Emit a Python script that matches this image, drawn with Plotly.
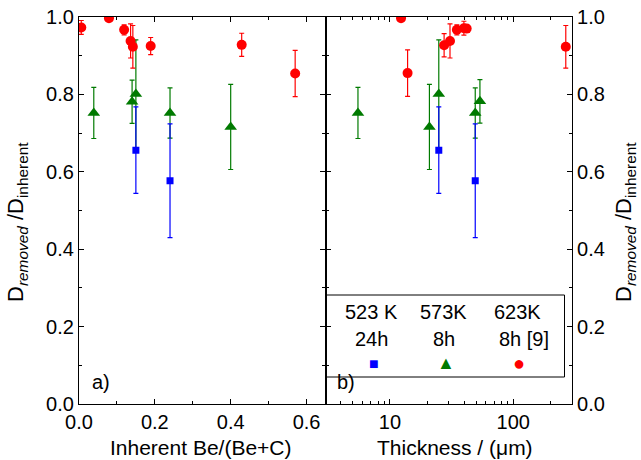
import plotly.graph_objects as go

# Panel a): inherent Be fraction
be_red = [0.006, 0.079, 0.119, 0.136, 0.142, 0.189, 0.429, 0.570]
d_red_a = [0.973, 0.997, 0.967, 0.938, 0.923, 0.925, 0.928, 0.854]
e_red_a = [0.018, 0.0, 0.013, 0.044, 0.055, 0.022, 0.030, 0.060]

be_green = [0.039, 0.140, 0.150, 0.240, 0.400]
d_green_a = [0.752, 0.781, 0.801, 0.752, 0.716]
e_green_a = [0.066, 0.056, 0.140, 0.065, 0.110]

be_blue = [0.150, 0.240]
d_blue_a = [0.656, 0.577]
e_blue_a = [0.112, 0.147]

# Panel b): layer thickness in micrometres
th_red = [12.3, 13.9, 27.5, 30.7, 34.9, 39.8, 41.9, 267.0]
d_red_b = [0.997, 0.855, 0.927, 0.938, 0.967, 0.971, 0.970, 0.923]
e_red_b = [0.0, 0.060, 0.030, 0.044, 0.013, 0.018, 0.010, 0.055]

th_green = [5.5, 20.9, 24.9, 49.2, 53.7]
d_green_b = [0.752, 0.716, 0.801, 0.752, 0.782]
e_green_b = [0.066, 0.110, 0.140, 0.065, 0.056]

th_blue = [24.9, 49.2]
d_blue_b = [0.656, 0.577]
e_blue_b = [0.112, 0.147]

legend_temps = ["523 K", "573K", "623K"]
legend_times = ["24h", "8h", "8h [9]"]

RED, GREEN, BLUE = "#ff0000", "#007a00", "#0000ff"
FONT = "Liberation Sans, Arial, Helvetica, sans-serif"
FS = 20

W, H = 641, 460
ML, MR, MT, MB = 79, 69, 17, 56
PW, PH = W - ML - MR, H - MT - MB


def px(x):
    return (x - ML) / PW


def py(y):
    return (H - MB - y) / PH


def series(x, y, err, color, symbol, size, xa, ya):
    return go.Scatter(
        x=x, y=y, mode="markers", xaxis=xa, yaxis=ya, showlegend=False,
        marker=dict(color=color, symbol=symbol, size=size, line=dict(width=0)),
        error_y=dict(type="data", array=err, visible=True, color=color,
                     thickness=1.2, width=2.5),
    )


fig = go.Figure()
fig.add_trace(series(be_green, d_green_a, e_green_a, GREEN, "triangle-up", 11, "x", "y"))
fig.add_trace(series(be_blue, d_blue_a, e_blue_a, BLUE, "square", 7, "x", "y"))
fig.add_trace(series(be_red, d_red_a, e_red_a, RED, "circle", 10, "x", "y"))
fig.add_trace(series(th_green, d_green_b, e_green_b, GREEN, "triangle-up", 11, "x2", "y2"))
fig.add_trace(series(th_blue, d_blue_b, e_blue_b, BLUE, "square", 7, "x2", "y2"))
fig.add_trace(series(th_red, d_red_b, e_red_b, RED, "circle", 10, "x2", "y2"))

tick_font = dict(family=FONT, size=FS, color="black")
common = dict(showline=True, linecolor="black", linewidth=1.2, mirror="ticks",
              ticks="inside", ticklen=5, tickwidth=1, tickcolor="black",
              showgrid=False, zeroline=False, tickfont=tick_font, automargin=False)
minor = dict(ticks="inside", ticklen=3, tickwidth=1, tickcolor="black", showgrid=False)

fig.update_layout(
    width=W, height=H, margin=dict(l=ML, r=MR, t=MT, b=MB, autoexpand=False),
    paper_bgcolor="white", plot_bgcolor="white",
    font=dict(family=FONT, size=FS, color="black"),
    xaxis=dict(domain=[0, 0.5], range=[0, 0.65], tickvals=[0, 0.2, 0.4, 0.6],
               tickformat=".1f", minor=dict(dtick=0.1, **minor), anchor="y",
               **common),
    yaxis=dict(domain=[0, 1], range=[0, 1.0], dtick=0.2, tickformat=".1f",
               minor=dict(dtick=0.1, **minor), anchor="x", **common),
    xaxis2=dict(domain=[0.5, 1], type="log", range=[0.477, 2.477],
                tickvals=[10, 100], ticktext=["10", "100"],
                minor=dict(dtick="D1", **minor), anchor="y2",
                **common),
    yaxis2=dict(domain=[0, 1], range=[0, 1.0], dtick=0.2, tickformat=".1f",
                minor=dict(dtick=0.1, **minor), anchor="x2", side="right", **common),
)

ytitle = "D<sub><i>removed</i></sub> /D<sub>inherent</sub>"
ytitle_font = dict(size=22, color="black")
anns = [
    dict(x=px(17), y=py(222), text=ytitle, textangle=-90, font=ytitle_font),
    dict(x=px(625), y=py(222), text=ytitle, textangle=-90, font=ytitle_font),
    dict(x=px(101), y=py(382), text="a)"),
    dict(x=px(346), y=py(382), text="b)"),
    dict(x=px(201), y=py(447), text="Inherent Be/(Be+C)", font=dict(size=21, color="black")),
    dict(x=px(455), y=py(447), text="Thickness / (\u03bcm)", font=dict(size=21, color="black")),
]
legend_x = [371.7, 443.5, 517.0]
marker_sym = ["\u25a0", "\u25b2", "\u25cf"]
marker_col = [BLUE, GREEN, RED]
marker_size = [16, 18, 20]
for i in range(3):
    anns.append(dict(x=px(legend_x[i]), y=py(312), text=legend_temps[i]))
    anns.append(dict(x=px(legend_x[i] + (7 if i == 2 else 0)), y=py(339), text=legend_times[i]))
    anns.append(dict(x=px(legend_x[i] + 2), y=py(363),
                     text=marker_sym[i], font=dict(color=marker_col[i], size=marker_size[i])))
for a in anns:
    a.setdefault("font", dict(size=FS, color="black"))
    fig.add_annotation(xref="paper", yref="paper", showarrow=False,
                       xanchor="center", yanchor="middle", **a)

fig.add_shape(type="rect", xref="paper", yref="paper",
              x0=px(326), x1=px(564.5), y0=py(377), y1=py(295),
              line=dict(color="black", width=1), fillcolor="white", layer="below")

fig.write_html("out.html")
